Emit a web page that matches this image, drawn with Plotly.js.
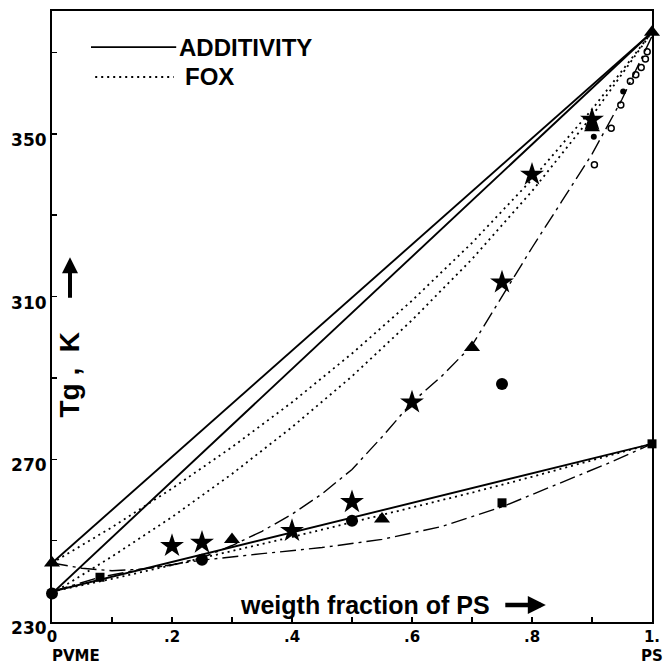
<!DOCTYPE html>
<html>
<head>
<meta charset="utf-8">
<script src="https://cdn.plot.ly/plotly-3.0.1.min.js"></script>
<style>html,body{margin:0;padding:0;background:#fff;}#chart{width:666px;height:666px;}</style>
</head>
<body>
<div id="chart"></div>
<script>
// ---- data ----
const xTicks = [0,0.1,0.2,0.3,0.4,0.5,0.6,0.7,0.8,0.9,1];
const xTickText = ['0','','.2','','.4','','.6','','.8','','1.'];
const yTicks = [230,250,270,290,310,330,350,370];
const yTickText = ['230','','270','','310','','350',''];

// additivity (straight) lines
const xAdd = [0, 1];
const addUpperA = [244.5, 375];
const addUpperB = [237, 375];
const addLower = [237.5, 273.8];

// Fox curves
const xFox = [0,0.1,0.2,0.3,0.4,0.5,0.6,0.7,0.8,0.9,1];
const foxUpperA = [244.5,253.3,262.8,273.0,284.0,296.0,309.0,323.2,338.8,356.0,375];
const foxUpperB = [237,246.1,255.8,266.4,277.9,290.4,304.2,319.2,335.9,354.4,375];
const foxLower = [237.5,240.6,244.0,247.4,250.9,254.5,258.1,261.8,265.7,269.7,273.8];

// experimental dash-dot curves
const xExpUpper = [0,0.05,0.1,0.15,0.2,0.25,0.3,0.35,0.4,0.45,0.5,0.55,0.6,0.65,0.7,0.75,0.8,0.85,0.9,0.95,1];
const expUpper = [244.5,243.2,242.6,243,244,245.8,248.8,252.3,256.5,261.5,267.5,275.5,284,290.5,298,310,322,333.5,345,358.5,374];
const xExpLower = [0,0.08,0.15,0.25,0.35,0.45,0.55,0.65,0.75,0.85,0.93,1];
const expLower = [237.5,241,243,245.2,246.8,248.3,250.3,253.5,258.3,264.3,269.2,273.8];

// symbols
const starX = [0.2,0.25,0.4,0.5,0.6,0.75,0.8,0.9];
const starY = [248.7,249.5,252.4,259.5,284,313.5,340,353.5];
const triX = [0,0.3,0.55,0.7,0.9,1];
const triY = [244.5,250.3,255.3,297.5,351.5,375];
const circX = [0,0.25,0.5,0.75];
const circY = [237,245.3,254.9,288.5];
const sqX = [0.08,0.75,1];
const sqY = [241,259.3,273.8];
const openX = [0.904,0.932,0.948,0.964,0.973,0.982,0.989,0.992];
const openY = [342.4,351.4,357.1,362.9,364.5,366.3,368.4,370.2];
const smallX = [0.903,0.952];
const smallY = [349.3,360.4];

// ---- drawing ----
const K = '#000';
function line(x, y, dash, w){
  return {x:x, y:y, type:'scatter', mode:'lines', line:{color:K, width:w, dash:dash}, hoverinfo:'skip', cliponaxis:false};
}
function pts(x, y, sym, size, lw){
  return {x:x, y:y, type:'scatter', mode:'markers', marker:{symbol:sym, size:size, color:K, line:{color:K, width:lw||0}}, cliponaxis:false};
}
const data = [
  line(xAdd, addUpperA, 'solid', 1.9),
  line(xAdd, addUpperB, 'solid', 1.9),
  line(xAdd, addLower, 'solid', 1.9),
  line(xFox, foxUpperA, '2px,4px', 1.8),
  line(xFox, foxUpperB, '2px,4px', 1.8),
  line(xFox, foxLower, '2px,4px', 1.8),
  line(xExpUpper, expUpper, '16px,5px,3px,5px', 1.4),
  line(xExpLower, expLower, '16px,5px,3px,5px', 1.4),
  pts(starX, starY, 'star', 18),
  pts(triX, triY, 'triangle-up', 14),
  pts(circX, circY, 'circle', 12),
  pts(sqX, sqY, 'square', 9),
  pts(openX, openY, 'circle-open', 6, 1.5),
  pts(smallX, smallY, 'circle', 6)
];

function f(size, fam){
  return {family: fam || 'Liberation Sans, Arial, sans-serif', color:K, weight:'bold', size:size};
}
const DJ = 'DejaVu Sans, Verdana, sans-serif';

const layout = {
  width:666, height:666,
  margin:{l:52, r:14, t:11, b:44},
  paper_bgcolor:'#fff', plot_bgcolor:'#fff',
  showlegend:false,
  xaxis:{
    range:[0,1], tickvals:xTicks, ticktext:xTickText, ticks:'inside', ticklen:5, tickwidth:1.5, tickcolor:K,
    showline:true, linecolor:K, linewidth:2, mirror:true, showgrid:false, zeroline:false,
    tickfont:f(15, DJ), ticklabelstandoff:0
  },
  yaxis:{
    range:[230,380.2], tickvals:yTicks, ticktext:yTickText, ticks:'inside', ticklen:5, tickwidth:1.5, tickcolor:K,
    showline:true, linecolor:K, linewidth:2, mirror:true, showgrid:false, zeroline:false,
    tickfont:f(17, DJ), ticklabelshift:6, ticklabelstandoff:0
  },
  shapes:[
    {type:'line', xref:'paper', yref:'paper', x0:0.065, x1:0.207, y0:0.941, y1:0.941, line:{color:K, width:1.8}},
    {type:'line', xref:'paper', yref:'paper', x0:0.072, x1:0.203, y0:0.892, y1:0.892, line:{color:K, width:2.2, dash:'2px,4px'}}
  ],
  annotations:[
    {xref:'paper', yref:'paper', x:0.208, y:0.941, xanchor:'left', yanchor:'middle', text:'ADDITIVITY', showarrow:false, font:f(24)},
    {xref:'paper', yref:'paper', x:0.218, y:0.892, xanchor:'left', yanchor:'middle', text:'FOX', showarrow:false, font:f(24)},
    {xref:'paper', yref:'paper', x:0.03, y:0.405, xanchor:'center', yanchor:'middle', text:'Tg\u00a0,\u00a0\u00a0K', textangle:-90, showarrow:false, font:f(28)},
    {xref:'paper', yref:'paper', x:0.03, y:0.597, text:'', showarrow:true, arrowhead:2, arrowsize:0.8, arrowwidth:4, arrowcolor:K, ax:0, ay:42},
    {xref:'paper', yref:'paper', x:0.522, y:0.0278, xanchor:'center', yanchor:'middle', text:'weigth fraction of PS', showarrow:false, font:f(25)},
    {xref:'paper', yref:'paper', x:0.823, y:0.0278, text:'', showarrow:true, arrowhead:2, arrowsize:0.8, arrowwidth:4.5, arrowcolor:K, ax:-42, ay:0},
    {xref:'paper', yref:'paper', x:-0.004, y:-0.0556, xanchor:'left', yanchor:'middle', text:'PVME', showarrow:false, font:f(15, DJ)},
    {xref:'paper', yref:'paper', x:1.022, y:-0.0556, xanchor:'right', yanchor:'middle', text:'PS', showarrow:false, font:f(15, DJ)}
  ]
};
Plotly.newPlot('chart', data, layout, {staticPlot:true, displayModeBar:false});
</script>
</body>
</html>
